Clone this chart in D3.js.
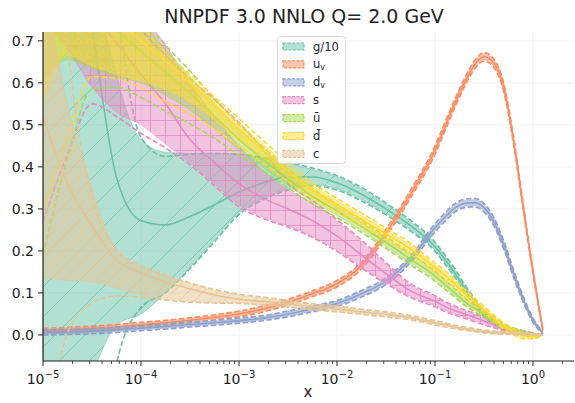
<!DOCTYPE html>
<html><head><meta charset="utf-8">
<script src="https://cdn.jsdelivr.net/npm/d3@7"></script>
<style>body{margin:0;background:#fff} svg{display:block} text{font-family:"DejaVu Sans",sans-serif}</style>
</head><body><svg id="c" width="575" height="403"></svg>
<script>
// ---------- data ----------
const xs = [1e-5,1.778e-5,3.162e-5,5.623e-5,1e-4,1.778e-4,3.162e-4,5.623e-4,1e-3,1.778e-3,3.162e-3,5.623e-3,1e-2,1.778e-2,3.162e-2,5.623e-2,0.1,0.1259,0.1585,0.1995,0.2512,0.3162,0.3981,0.5012,0.631,0.7943,1.0,1.259];

const g_cen = [1.6,1.05,0.725,0.375,0.272,0.262,0.282,0.31,0.34,0.362,0.376,0.376,0.362,0.335,0.30,0.26,0.21,0.18,0.148,0.112,0.08,0.05,0.03,0.017,0.009,0.004,0.001,0.0];
const g_lo  = [-0.4,-0.2,-0.09,0.024,0.05,0.10,0.16,0.225,0.29,0.325,0.348,0.358,0.348,0.322,0.289,0.25,0.202,0.172,0.141,0.106,0.075,0.046,0.027,0.014,0.007,0.002,0.0,0.0];
const g_hi  = [3.0,2.0,0.95,0.62,0.465,0.435,0.432,0.432,0.43,0.42,0.408,0.394,0.376,0.348,0.311,0.27,0.218,0.188,0.155,0.118,0.085,0.054,0.033,0.02,0.011,0.006,0.002,0.0];
const g_dlo = [-1.5,-1.0,-0.5,-0.07,0.065,0.10,0.158,0.222,0.287,0.322,0.345,0.355,0.345,0.319,0.286,0.247,0.199,0.169,0.138,0.103,0.072,0.043,0.025,0.012,0.005,0.001,-0.001,0.0];
const g_dhi = [3.5,2.5,1.4,0.8,0.47,0.425,0.43,0.432,0.43,0.422,0.411,0.397,0.379,0.351,0.314,0.273,0.221,0.191,0.158,0.121,0.088,0.057,0.035,0.022,0.013,0.007,0.003,0.0];

const uv_cen  = [0.010,0.012,0.015,0.019,0.024,0.029,0.035,0.042,0.050,0.062,0.078,0.098,0.122,0.165,0.243,0.335,0.44,0.495,0.55,0.60,0.642,0.662,0.647,0.59,0.465,0.305,0.15,0.012];
const uv_err  = [0.004,0.004,0.004,0.004,0.004,0.004,0.004,0.004,0.005,0.005,0.005,0.005,0.006,0.006,0.006,0.007,0.007,0.007,0.007,0.007,0.007,0.007,0.007,0.007,0.006,0.005,0.004,0.002];
const uv_derr = [0.006,0.006,0.006,0.006,0.006,0.006,0.006,0.006,0.007,0.007,0.007,0.007,0.008,0.008,0.009,0.009,0.010,0.010,0.010,0.010,0.010,0.010,0.010,0.010,0.009,0.007,0.005,0.003];

const dv_cen  = [0.006,0.007,0.009,0.012,0.016,0.020,0.025,0.029,0.034,0.040,0.050,0.062,0.075,0.098,0.128,0.18,0.255,0.28,0.302,0.313,0.315,0.303,0.27,0.215,0.147,0.085,0.035,0.005];
const dv_err  = [0.004,0.004,0.004,0.004,0.004,0.004,0.004,0.004,0.004,0.004,0.005,0.005,0.005,0.006,0.006,0.006,0.007,0.007,0.007,0.007,0.007,0.007,0.007,0.007,0.006,0.005,0.004,0.002];
const dv_derr = [0.006,0.006,0.006,0.006,0.006,0.006,0.006,0.006,0.006,0.006,0.007,0.007,0.007,0.008,0.008,0.008,0.010,0.010,0.010,0.010,0.010,0.010,0.010,0.010,0.009,0.007,0.005,0.003];

const s_cen = [0.90,0.83,0.765,0.695,0.62,0.55,0.465,0.41,0.36,0.325,0.30,0.272,0.235,0.19,0.146,0.105,0.08,0.068,0.058,0.05,0.042,0.033,0.024,0.016,0.01,0.006,0.003,0.0];
const s_lo  = [0.75,0.68,0.59,0.53,0.50,0.455,0.41,0.36,0.31,0.28,0.26,0.235,0.202,0.162,0.125,0.092,0.07,0.059,0.05,0.043,0.035,0.027,0.019,0.012,0.007,0.004,0.001,0.0];
const s_hi  = [1.1,1.0,0.94,0.86,0.77,0.69,0.60,0.52,0.45,0.39,0.345,0.315,0.27,0.222,0.168,0.118,0.09,0.077,0.066,0.057,0.049,0.039,0.029,0.02,0.013,0.008,0.004,0.0];
const s_dlo = [0.27,0.43,0.55,0.52,0.48,0.445,0.405,0.355,0.305,0.277,0.257,0.232,0.199,0.159,0.122,0.089,0.067,0.056,0.047,0.04,0.032,0.024,0.017,0.01,0.005,0.002,0.0,0.0];
const s_dhi = [1.3,1.15,1.0,0.86,0.73,0.665,0.61,0.56,0.505,0.44,0.36,0.32,0.274,0.226,0.172,0.122,0.093,0.08,0.069,0.06,0.052,0.042,0.032,0.022,0.015,0.01,0.005,0.0];

const ub_cen = [0.87,0.825,0.775,0.725,0.675,0.625,0.575,0.52,0.465,0.418,0.372,0.33,0.295,0.258,0.22,0.18,0.14,0.12,0.10,0.08,0.064,0.05,0.035,0.021,0.012,0.006,0.002,0.0];
const ub_lo  = [0.60,0.655,0.635,0.615,0.60,0.57,0.535,0.49,0.44,0.398,0.356,0.317,0.284,0.248,0.21,0.171,0.132,0.113,0.094,0.075,0.059,0.046,0.031,0.018,0.009,0.004,0.001,0.0];
const ub_hi  = [1.3,1.05,0.92,0.83,0.75,0.68,0.615,0.552,0.49,0.438,0.388,0.343,0.306,0.268,0.23,0.189,0.148,0.127,0.106,0.085,0.069,0.054,0.039,0.024,0.015,0.008,0.003,0.0];
const ub_dlo = [0.19,0.42,0.585,0.59,0.565,0.533,0.502,0.468,0.428,0.39,0.35,0.312,0.279,0.244,0.206,0.167,0.128,0.109,0.09,0.071,0.056,0.043,0.028,0.015,0.007,0.002,0.0,0.0];
const ub_dhi = [1.4,1.15,0.98,0.86,0.76,0.69,0.628,0.562,0.5,0.446,0.394,0.348,0.311,0.272,0.234,0.193,0.152,0.131,0.11,0.089,0.072,0.057,0.042,0.027,0.017,0.01,0.004,0.0];

const db_cen = [0.90,0.85,0.80,0.75,0.70,0.652,0.60,0.545,0.49,0.44,0.39,0.345,0.31,0.275,0.24,0.205,0.16,0.142,0.122,0.10,0.08,0.06,0.04,0.022,0.008,-0.002,-0.004,0.0];
const db_lo  = [0.55,0.665,0.64,0.62,0.605,0.585,0.555,0.512,0.464,0.42,0.374,0.332,0.299,0.265,0.231,0.197,0.153,0.135,0.116,0.094,0.075,0.055,0.036,0.018,0.004,-0.006,-0.007,0.0];
const db_hi  = [1.3,1.1,0.95,0.83,0.725,0.665,0.613,0.558,0.505,0.453,0.402,0.356,0.32,0.285,0.249,0.213,0.167,0.149,0.128,0.106,0.085,0.065,0.044,0.026,0.012,0.002,-0.001,0.0];
const db_dlo = [0.30,0.47,0.615,0.61,0.588,0.555,0.525,0.49,0.45,0.408,0.365,0.325,0.293,0.26,0.226,0.192,0.149,0.131,0.112,0.091,0.071,0.052,0.033,0.015,0.001,-0.009,-0.009,0.0];
const db_dhi = [1.4,1.2,1.0,0.85,0.74,0.672,0.62,0.566,0.515,0.462,0.41,0.362,0.325,0.29,0.254,0.218,0.171,0.153,0.132,0.109,0.089,0.068,0.047,0.029,0.015,0.005,0.001,0.0];

const c_cen = [0.52,0.36,0.26,0.178,0.148,0.126,0.11,0.095,0.085,0.08,0.074,0.067,0.062,0.055,0.049,0.041,0.029,0.024,0.019,0.015,0.011,0.008,0.006,0.005,0.004,0.003,0.002,0.0];
const c_lo  = [0.136,0.13,0.126,0.112,0.095,0.085,0.08,0.078,0.077,0.073,0.068,0.062,0.057,0.051,0.045,0.038,0.026,0.021,0.017,0.013,0.009,0.006,0.004,0.003,0.002,0.001,0.001,0.0];
const c_hi  = [0.85,0.55,0.35,0.2,0.162,0.14,0.122,0.106,0.095,0.088,0.08,0.072,0.067,0.059,0.053,0.044,0.032,0.027,0.021,0.017,0.013,0.01,0.008,0.007,0.006,0.005,0.003,0.0];
const c_dlo = [-0.35,0.005,0.075,0.093,0.09,0.083,0.078,0.076,0.075,0.071,0.066,0.06,0.055,0.049,0.043,0.036,0.024,0.019,0.015,0.011,0.008,0.005,0.003,0.002,0.001,0.0,0.0,0.0];
const c_dhi = [1.6,0.7,0.33,0.205,0.165,0.142,0.124,0.108,0.097,0.09,0.082,0.074,0.069,0.061,0.055,0.046,0.034,0.029,0.023,0.019,0.015,0.012,0.009,0.008,0.007,0.005,0.003,0.0];

const names  = ["g/10","u_v","d_v","s","ubar","dbar","c"];
const colors = ["#66c2a5","#fc8d62","#8da0cb","#e78ac3","#a6d854","#ffd92f","#e5c494"];
const xTickExps = [-5,-4,-3,-2,-1,0];
const yTicks = [0.0,0.1,0.2,0.3,0.4,0.5,0.6,0.7];
const title = "NNPDF 3.0 NNLO Q= 2.0 GeV";

// ---------- build series ----------
const plus = (a,b)=>a.map((v,i)=>v+b[i]);
const minus = (a,b)=>a.map((v,i)=>v-b[i]);
const series = [
  {cen:g_cen, lo:g_lo, hi:g_hi, dlo:g_dlo, dhi:g_dhi, hatch:"diag"},
  {cen:uv_cen, lo:minus(uv_cen,uv_err), hi:plus(uv_cen,uv_err), dlo:minus(uv_cen,uv_derr), dhi:plus(uv_cen,uv_derr), hatch:null},
  {cen:dv_cen, lo:minus(dv_cen,dv_err), hi:plus(dv_cen,dv_err), dlo:minus(dv_cen,dv_derr), dhi:plus(dv_cen,dv_derr), hatch:null},
  {cen:s_cen, lo:s_lo, hi:s_hi, dlo:s_dlo, dhi:s_dhi, hatch:"grid"},
  {cen:ub_cen, lo:ub_lo, hi:ub_hi, dlo:ub_dlo, dhi:ub_dhi, hatch:null},
  {cen:db_cen, lo:db_lo, hi:db_hi, dlo:db_dlo, dhi:db_dhi, hatch:"circ"},
  {cen:c_cen, lo:c_lo, hi:c_hi, dlo:c_dlo, dhi:c_dhi, hatch:"diag2"}
];

// ---------- layout ----------
const svg = d3.select("#c");
const L=43, R=574, T=32, B=361;
const x = d3.scaleLog().domain([1e-5, 2.62]).range([L,R]);
const y = d3.scaleLinear().domain([-0.062,0.721]).range([B,T]);

const defs = svg.append("defs");
defs.append("clipPath").attr("id","clip").append("rect").attr("x",L).attr("y",T).attr("width",R-L).attr("height",B-T);

function mkPattern(id, kind, col){
  let s = kind==="diag"?30:(kind==="diag2"?15:(kind==="grid"?15:12));
  const p = defs.append("pattern").attr("id",id).attr("patternUnits","userSpaceOnUse").attr("width",s).attr("height",s);
  if(kind==="diag"||kind==="diag2"){
    p.append("path").attr("d",`M0,${s} L${s},0 M${-s/2},${s/2} L${s/2},${-s/2} M${s/2},${s*1.5} L${s*1.5},${s/2}`)
     .attr("stroke",col).attr("stroke-width",1).attr("stroke-opacity",0.8);
  } else if(kind==="grid"){
    p.append("path").attr("d",`M0,0.5 H${s} M0.5,0 V${s}`).attr("stroke",col).attr("stroke-width",1).attr("stroke-opacity",0.8);
  } else if(kind==="circ"){
    p.append("circle").attr("cx",s/2).attr("cy",s/2).attr("r",3).attr("fill","none").attr("stroke",col).attr("stroke-width",0.8).attr("stroke-opacity",0.6);
  }
}

// grid
const gridG = svg.append("g");
yTicks.forEach(t=>gridG.append("line").attr("x1",L).attr("x2",R).attr("y1",y(t)).attr("y2",y(t)).attr("stroke","#f0f0f0").attr("stroke-width",1));
xTickExps.forEach(e=>gridG.append("line").attr("x1",x(Math.pow(10,e))).attr("x2",x(Math.pow(10,e))).attr("y1",T).attr("y2",B).attr("stroke","#f0f0f0").attr("stroke-width",1));

const plot = svg.append("g").attr("clip-path","url(#clip)");
const curve = d3.curveMonotoneX;
const area = (lo,hi)=>d3.area().x((d,i)=>x(xs[i])).y0((d,i)=>y(lo[i])).y1((d,i)=>y(hi[i])).curve(curve)(xs);
const line = (arr)=>d3.line().x((d,i)=>x(xs[i])).y((d,i)=>y(arr[i])).curve(curve)(xs);

series.forEach((s,k)=>{
  const col = colors[k];
  const d = area(s.lo,s.hi);
  plot.append("path").attr("d",d).attr("fill",col).attr("fill-opacity",0.5).attr("stroke",col).attr("stroke-opacity",0.5).attr("stroke-width",1);
  if(s.hatch){
    mkPattern("h"+k, s.hatch, col);
    plot.append("path").attr("d",d).attr("fill",`url(#h${k})`);
  }
  [s.dlo,s.dhi].forEach(a=>plot.append("path").attr("d",line(a)).attr("fill","none").attr("stroke",col).attr("stroke-width",1.6).attr("stroke-dasharray","5.5,2.5"));
  plot.append("path").attr("d",line(s.cen)).attr("fill","none").attr("stroke",col).attr("stroke-width",1.6);
});

// axes
const ax = svg.append("g");
ax.append("line").attr("x1",L).attr("x2",L).attr("y1",T).attr("y2",B).attr("stroke","#222").attr("stroke-width",1.2);
ax.append("line").attr("x1",L).attr("x2",R).attr("y1",B).attr("y2",B).attr("stroke","#222").attr("stroke-width",1.2);
yTicks.forEach(t=>{
  ax.append("line").attr("x1",L-5).attr("x2",L).attr("y1",y(t)).attr("y2",y(t)).attr("stroke","#222").attr("stroke-width",1);
  ax.append("text").attr("x",L-9).attr("y",y(t)).attr("dy","0.36em").attr("text-anchor","end").attr("font-size",14).attr("fill","#222").text(d3.format(".1f")(t));
});
xTickExps.forEach(e=>{
  const px = x(Math.pow(10,e));
  ax.append("line").attr("x1",px).attr("x2",px).attr("y1",B).attr("y2",B+5).attr("stroke","#222").attr("stroke-width",1);
  const t = ax.append("text").attr("x",px).attr("y",B+23).attr("text-anchor","middle").attr("font-size",14).attr("fill","#222");
  t.append("tspan").text("10");
  t.append("tspan").attr("dy",-6).attr("font-size",10).text(e<0?"\u2212"+(-e):String(e));
});
for(let e=-5;e<=0;e++){ for(let m=2;m<=9;m++){ const v=m*Math.pow(10,e); if(v>2.62) continue;
  const px=x(v); ax.append("line").attr("x1",px).attr("x2",px).attr("y1",B).attr("y2",B+3).attr("stroke","#222").attr("stroke-width",0.8);} }

svg.append("text").attr("x",308).attr("y",397).attr("text-anchor","middle").attr("font-size",15).attr("fill","#222").text("x");
svg.append("text").attr("x",304).attr("y",23).attr("text-anchor","middle").attr("font-size",19).attr("fill","#222").text(title);

// legend
const lg = svg.append("g");
lg.append("rect").attr("x",277.5).attr("y",36.5).attr("width",68).attr("height",127).attr("rx",3).attr("fill","#fff").attr("fill-opacity",0.85).attr("stroke","#d8d8d8");
const labels = [["g/10",null],["u","v"],["d","v"],["s",null],["\u016b",null],["d\u0304",null],["c",null]];
labels.forEach((lb,i)=>{
  const yy = 46.5 + i*17.9;
  lg.append("rect").attr("x",283).attr("y",yy-3.5).attr("width",21).attr("height",7)
    .attr("fill",colors[i]).attr("fill-opacity",0.5).attr("stroke",colors[i]).attr("stroke-width",1.2).attr("stroke-dasharray","3,1.5");
  const t = lg.append("text").attr("x",313).attr("y",yy).attr("dy","0.35em").attr("font-size",11.5).attr("fill","#222");
  t.append("tspan").text(lb[0]);
  if(lb[1]) t.append("tspan").attr("dy",2).attr("font-size",8).text(lb[1]);
});
</script></body></html>
